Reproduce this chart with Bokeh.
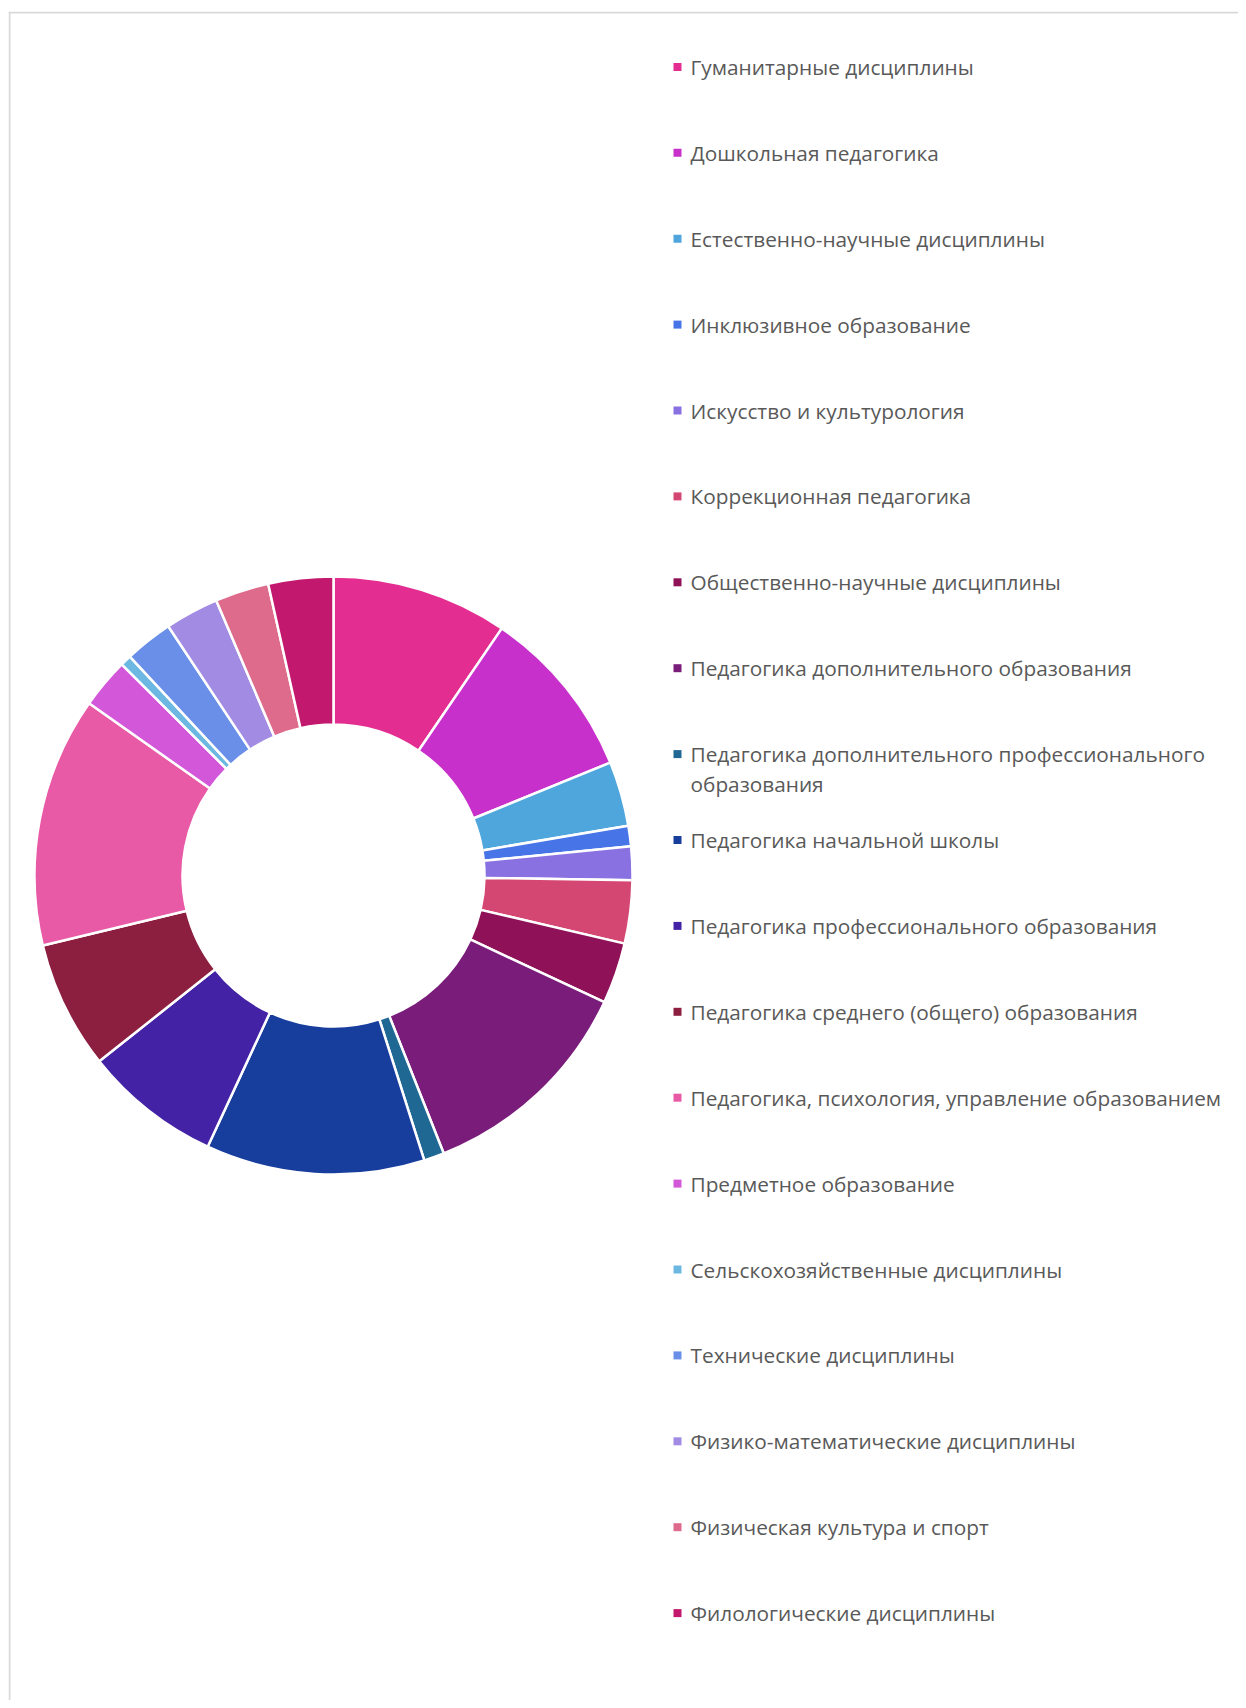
import numpy as np
from bokeh.plotting import figure
from bokeh.models import Range1d, ColumnDataSource, Span
from bokeh.core.properties import value
from bokeh.embed import file_html
from bokeh.resources import INLINE

categories = [
    "Гуманитарные дисциплины",
    "Дошкольная педагогика",
    "Естественно-научные дисциплины",
    "Инклюзивное образование",
    "Искусство и культурология",
    "Коррекционная педагогика",
    "Общественно-научные дисциплины",
    "Педагогика дополнительного образования",
    "Педагогика дополнительного профессионального\nобразования",
    "Педагогика начальной школы",
    "Педагогика профессионального образования",
    "Педагогика среднего (общего) образования",
    "Педагогика, психология, управление образованием",
    "Предметное образование",
    "Сельскохозяйственные дисциплины",
    "Технические дисциплины",
    "Физико-математические дисциплины",
    "Физическая культура и спорт",
    "Филологические дисциплины",
]
shares = [9.5, 9.3, 3.5, 1.1, 1.8, 3.4, 3.3, 12.0, 1.1, 11.8,
          7.4, 6.9, 13.5, 2.7, 0.6, 2.6, 2.9, 2.9, 3.5]
colors = ["#E32D91", "#C830CC", "#4EA6DC", "#4775E7", "#8971E1", "#D54773",
          "#8F1157", "#7A1D7A", "#1F6893", "#173D9D", "#4322A6", "#8C1F40",
          "#E859A6", "#D357D9", "#6DB8E3", "#6A8FE8", "#A18BE3", "#DE6B8C",
          "#C2186E"]

W, H = 1238, 1700
p = figure(width=W, height=H, output_backend="svg", toolbar_location=None,
           x_range=Range1d(8, 1238), y_range=Range1d(-1700, -11),
           min_border_left=8, min_border_right=0, min_border_top=11,
           min_border_bottom=0)
p.axis.visible = False
p.grid.visible = False
p.outline_line_color = None
p.background_fill_color = "white"
p.border_fill_color = "white"

# chart-area border (top and left edges only are visible)
p.add_layout(Span(location=9, dimension="height", line_color="#D9D9D9",
                  line_width=2))
p.add_layout(Span(location=-12, dimension="width", line_color="#D9D9D9",
                  line_width=2))

vals = np.array(shares, dtype=float)
frac = vals / vals.sum()
ends = np.cumsum(frac) * 2 * np.pi
starts = ends - frac * 2 * np.pi
# clockwise from 12 o'clock
src = ColumnDataSource(dict(
    start=np.pi / 2 - ends,
    end=np.pi / 2 - starts,
    color=colors,
))
cx, cy = 333, -875
p.annular_wedge(x=cx, y=cy, inner_radius=151, outer_radius=299,
                start_angle="start", end_angle="end", direction="anticlock",
                fill_color="color", line_color="white", line_width=2.5,
                source=src)

# legend
y0, dy = 66.4, 85.9
lx_marker, lx_text = 677, 690
mk_x, mk_y, mk_c = [], [], []
t_x, t_y, t_txt = [], [], []
for i, (lab, c) in enumerate(zip(categories, colors)):
    yy = y0 + dy * i
    mk_x.append(lx_marker)
    mk_y.append(-yy)
    mk_c.append(c)
    for j, line in enumerate(lab.split("\n")):
        t_x.append(lx_text)
        t_y.append(-(yy + 29.4 * j))
        t_txt.append(line)

p.scatter(x=mk_x, y=mk_y, marker="square", size=8, fill_color=mk_c,
          line_color=None)
p.text(x=t_x, y=t_y, text=t_txt, text_font=value("Open Sans"),
       text_font_size="20.8px", text_color="#595959", text_baseline="middle",
       text_align="left")

open("out.html", "w").write(file_html(p, INLINE))
